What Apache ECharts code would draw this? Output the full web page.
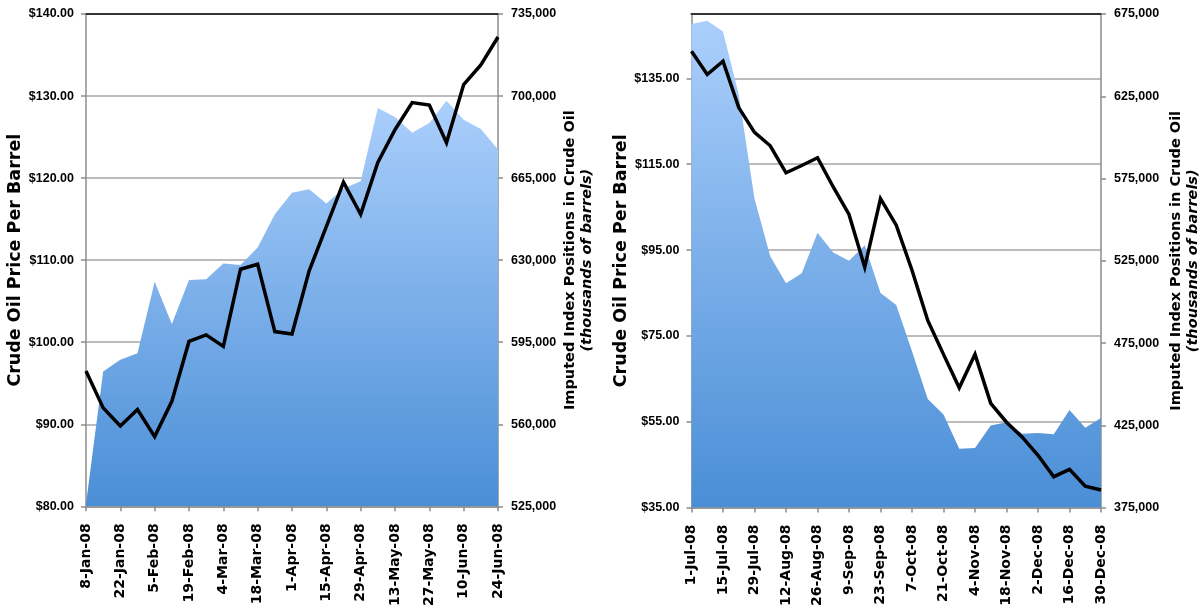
<!DOCTYPE html>
<html>
<head>
<meta charset="utf-8">
<script src="https://cdn.jsdelivr.net/npm/echarts@6/dist/echarts.min.js"></script>
<style>
  html, body { margin: 0; padding: 0; background: #ffffff; }
  #chart { width: 1202px; height: 609px; }
</style>
</head>
<body>
<div id="chart"></div>
<script>
// First half of 2008 (weekly)
const firstHalfDates = ['8-Jan-08','15-Jan-08','22-Jan-08','29-Jan-08','5-Feb-08','12-Feb-08','19-Feb-08','26-Feb-08',
  '4-Mar-08','11-Mar-08','18-Mar-08','25-Mar-08','1-Apr-08','8-Apr-08','15-Apr-08','22-Apr-08','29-Apr-08',
  '6-May-08','13-May-08','20-May-08','27-May-08','3-Jun-08','10-Jun-08','17-Jun-08','24-Jun-08'];
const firstHalfPrice = [96.5, 92.0, 89.8, 91.8, 88.5, 92.8, 100.1, 100.9, 99.5, 108.9, 109.5, 101.3, 101.0,
  108.7, 114.1, 119.5, 115.6, 121.9, 125.9, 129.2, 128.9, 124.3, 131.4, 133.8, 137.2];
const firstHalfPositions = [526000, 582500, 587500, 590300, 620800, 602800, 621500, 621900, 628600, 627900,
  635400, 649600, 658800, 660200, 654200, 660600, 663700, 694900, 691100, 684300, 688500, 698000, 689900,
  686000, 677200];

// Second half of 2008 (weekly)
const secondHalfDates = ['1-Jul-08','8-Jul-08','15-Jul-08','22-Jul-08','29-Jul-08','5-Aug-08','12-Aug-08',
  '19-Aug-08','26-Aug-08','2-Sep-08','9-Sep-08','16-Sep-08','23-Sep-08','30-Sep-08','7-Oct-08','14-Oct-08',
  '21-Oct-08','28-Oct-08','4-Nov-08','11-Nov-08','18-Nov-08','25-Nov-08','2-Dec-08','9-Dec-08','16-Dec-08',
  '23-Dec-08','30-Dec-08'];
const secondHalfPrice = [141.3, 135.9, 139.0, 128.2, 122.4, 119.3, 113.0, 114.7, 116.5, 109.7, 103.3, 91.0,
  107.0, 100.8, 90.3, 78.6, 70.7, 62.9, 70.7, 59.3, 54.9, 51.4, 47.2, 42.2, 43.9, 40.0, 39.1];
const secondHalfPositions = [668950, 670950, 664300, 626100, 562700, 527700, 511400, 517450, 542000, 530100,
  525100, 534500, 505400, 498100, 470000, 441000, 431600, 410800, 411200, 424900, 426900, 419900, 420300,
  419500, 434300, 423500, 429500];

const PRICE_TITLE = 'Crude Oil Price Per Barrel';
const POS_TITLE = '{a|Imputed Index Positions in Crude Oil}\n{b|(thousands of barrels)}';

const tickFont = "'Liberation Sans Narrow', 'Liberation Sans', sans-serif";
const titleFont = "'DejaVu Sans', Verdana, sans-serif";
const axisGray = '#8c8c8c';

function money(v) { return '$' + v.toFixed(2); }
function thousands(v) { return v.toString().replace(/\B(?=(\d{3})+(?!\d))/g, ','); }

function xAxes(gridIndex, dates) {
  return [{
    type: 'category', gridIndex, data: dates, boundaryGap: false, position: 'bottom',
    axisLine: { lineStyle: { color: axisGray, width: 1.5 } },
    axisTick: { show: true, interval: 1, length: 5, lineStyle: { color: axisGray, width: 1.5 } },
    axisLabel: { interval: 1, rotate: 90, margin: 17, color: '#000', fontFamily: titleFont,
      fontWeight: 'bold', fontSize: 14 },
    splitLine: { show: false }
  }, {
    // dark frame line along the top of the plot
    type: 'category', gridIndex, data: dates, boundaryGap: false, position: 'top',
    axisLine: { lineStyle: { color: '#333', width: 2 } },
    axisTick: { show: false }, axisLabel: { show: false }, splitLine: { show: false }
  }];
}

function priceAxis(gridIndex, min, max, interval, gap) {
  return {
    type: 'value', gridIndex, position: 'left', min, max, interval,
    name: PRICE_TITLE, nameLocation: 'middle', nameRotate: 90, nameGap: gap,
    nameTextStyle: { fontFamily: titleFont, fontWeight: 'bold', fontSize: 17.5, color: '#000' },
    axisLine: { show: true, lineStyle: { color: axisGray, width: 1.5 } },
    axisTick: { show: true, length: 5, lineStyle: { color: axisGray, width: 1.5 } },
    axisLabel: { formatter: money, margin: 12, color: '#000', fontFamily: tickFont, fontWeight: 'bold',
      fontSize: 12.5, showMaxLabel: max % interval === min % interval },
    splitLine: { show: true, lineStyle: { color: '#a6a6a6', width: 1.5 } }
  };
}

function positionAxis(gridIndex, min, max, interval, gap) {
  return {
    type: 'value', gridIndex, position: 'right', min, max, interval,
    name: POS_TITLE, nameLocation: 'middle', nameRotate: 90, nameGap: gap,
    nameTextStyle: { color: '#000', rich: {
      a: { fontFamily: titleFont, fontWeight: 'bold', fontSize: 14.5, lineHeight: 17, color: '#000' },
      b: { fontFamily: titleFont, fontWeight: 'bold', fontStyle: 'italic', fontSize: 14.5, lineHeight: 17, color: '#000' }
    } },
    axisLine: { show: true, lineStyle: { color: axisGray, width: 1.5 } },
    axisTick: { show: true, length: 5, lineStyle: { color: axisGray, width: 1.5 } },
    axisLabel: { formatter: thousands, margin: 13, color: '#000', fontFamily: tickFont, fontWeight: 'bold', fontSize: 12.5 },
    splitLine: { show: false }
  };
}

const areaFill = new echarts.graphic.LinearGradient(0, 0, 0, 1, [
  { offset: 0, color: '#abcffc' },
  { offset: 1, color: '#4a8ed6' }
]);

function positionsSeries(xIdx, yIdx, data) {
  return {
    type: 'line', xAxisIndex: xIdx, yAxisIndex: yIdx, data, symbol: 'none', z: 1,
    lineStyle: { width: 0 }, areaStyle: { color: areaFill, opacity: 1, origin: 'start' }
  };
}

function priceSeries(xIdx, yIdx, data) {
  return {
    type: 'line', xAxisIndex: xIdx, yAxisIndex: yIdx, data, symbol: 'none', z: 3,
    lineStyle: { color: '#000', width: 3.5, join: 'miter' }
  };
}

const chart = echarts.init(document.getElementById('chart'), null, { renderer: 'canvas' });
chart.setOption({
  animation: false,
  backgroundColor: '#ffffff',
  grid: [
    { left: 86, top: 14, width: 412, height: 494, containLabel: false },
    { left: 691.5, top: 14, width: 412.5, height: 497, containLabel: false }
  ],
  xAxis: [...xAxes(0, firstHalfDates), ...xAxes(1, secondHalfDates)],
  yAxis: [
    priceAxis(0, 80, 140, 10, 48),
    positionAxis(0, 525000, 735000, 35000, 64),
    priceAxis(1, 35, 150, 20, 50),
    positionAxis(1, 375000, 675000, 50000, 67)
  ],
  series: [
    positionsSeries(0, 1, firstHalfPositions),
    priceSeries(0, 0, firstHalfPrice),
    positionsSeries(2, 3, secondHalfPositions),
    priceSeries(2, 2, secondHalfPrice)
  ]
});
</script>
</body>
</html>
